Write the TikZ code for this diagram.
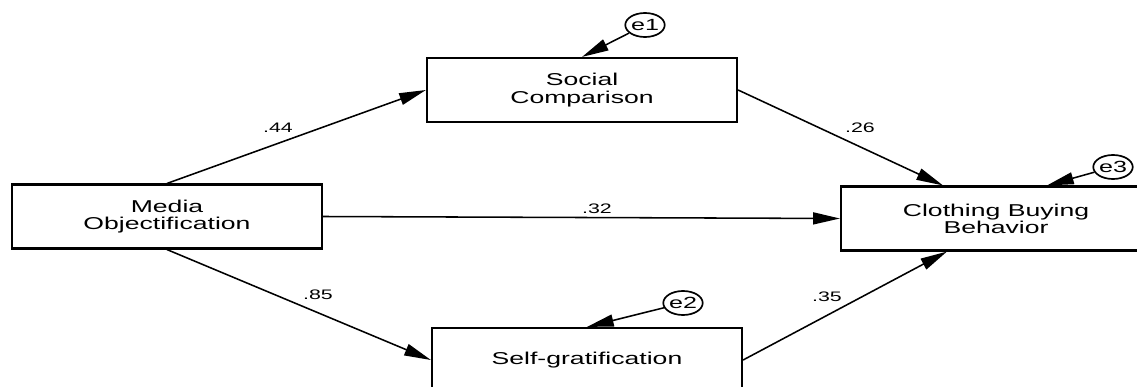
\documentclass[tikz,border=0pt]{standalone}
\usepackage{fontspec}
\setmainfont{Liberation Sans}[FakeStretch=1.55]
\usetikzlibrary{arrows.meta,calc,shapes.geometric}

\begin{document}
\begin{tikzpicture}[x=0.025cm,y=-0.025cm]
\tikzstyle{var}=[draw,line width=1.5pt,minimum width=7.75cm,minimum height=1.6cm,align=center,inner sep=0pt,font=\fontsize{12.2}{12.2}\selectfont]
\tikzstyle{err}=[draw,ellipse,line width=1.2pt,minimum width=0.85cm,minimum height=0.6cm,inner sep=0pt,font=\fontsize{11.5}{11.5}\selectfont]
\tikzstyle{effect}=[line width=1.1pt,-{Triangle[length=19pt,width=8.5pt]}]
\tikzstyle{coef}=[inner sep=0pt,font=\fontsize{9.8}{9.8}\selectfont]
\clip (0,0) rectangle (1137,387);
\node[var] (mo) at (167,216.5) {Media\\Objectification};
\node[var] (sc) at (582,90) {Social\\Comparison};
\node[var] (cbb) at (996,218.5) {Clothing Buying\\Behavior};
\node[var] (sg) at (587,360) {Self-gratification};
\node[err] (e1) at (645,25) {e1};
\node[err] (e2) at (683,303) {e2};
\node[err] (e3) at (1113,167) {e3};
\draw[effect] (mo.north) -- (sc.west);
\draw[effect] (sc.east) -- ($(cbb.north)+(-53,0)$);
\draw[effect] (mo.east) -- (cbb.west);
\draw[effect] (mo.south) -- (sg.west);
\draw[effect] (sg.east) -- ($(cbb.south)+(-49,0)$);
\draw[effect] (e1) -- (sc.north);
\draw[effect] (e2) -- (sg.north);
\draw[effect] (e3) -- ($(cbb.north)+(51,0)$);
\node[coef] (c44) at (278,128) {.44};
\node[coef] (c26) at (860,128) {.26};
\node[coef] (c32) at (597,209) {.32};
\node[coef] (c85) at (318,295) {.85};
\node[coef] (c35) at (827,297) {.35};
\end{tikzpicture}
\end{document}
